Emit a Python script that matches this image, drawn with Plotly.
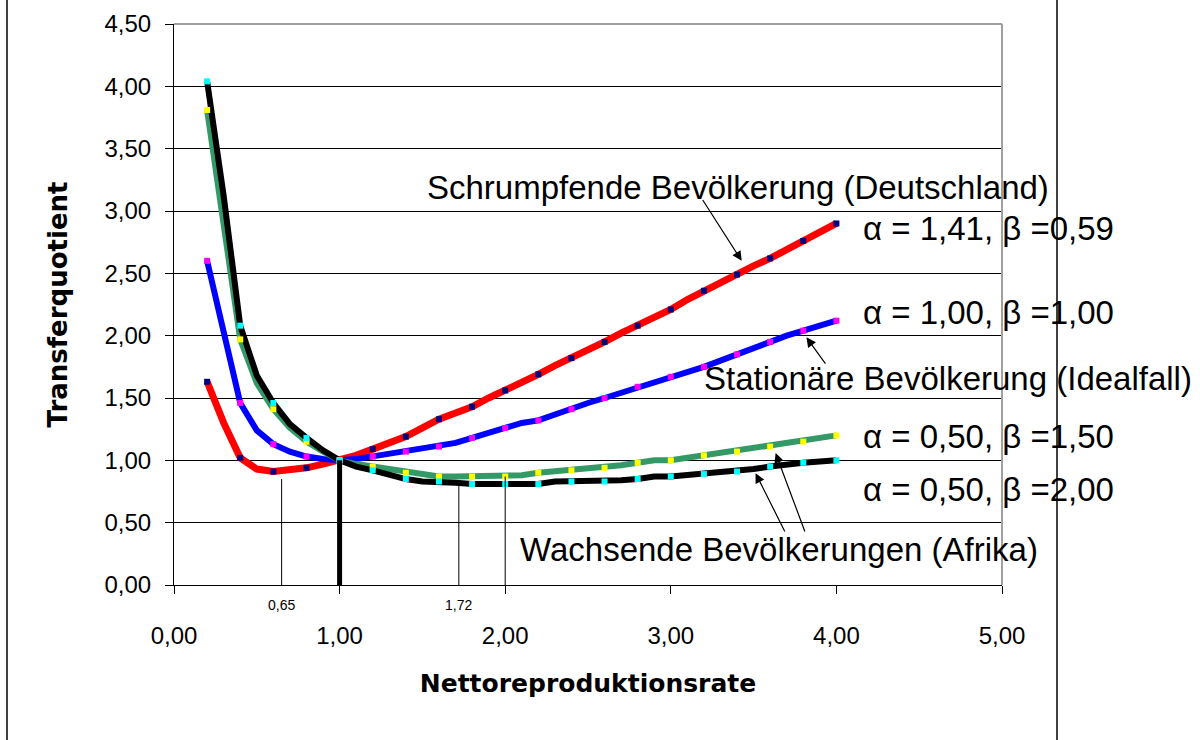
import plotly.graph_objects as go

# Nettoreproduktionsrate (0.2 .. 4.0 in steps of 0.1)
nrr = [round(0.2 + 0.1 * i, 1) for i in range(39)]

# Transferquotient for the four parameter sets
tq_a141_b059 = [1.63, 1.30, 1.02, 0.93, 0.91, 0.92, 0.94, 0.97, 1.00, 1.04,
                1.09, 1.14, 1.19, 1.26, 1.33, 1.38, 1.43, 1.50, 1.56, 1.63,
                1.69, 1.76, 1.82, 1.89, 1.95, 2.02, 2.08, 2.15, 2.21, 2.29,
                2.36, 2.42, 2.49, 2.56, 2.62, 2.69, 2.76, 2.83, 2.90]
tq_a100_b100 = [2.60, 2.02, 1.46, 1.24, 1.13, 1.07, 1.03, 1.01, 1.00, 1.01,
                1.03, 1.05, 1.07, 1.09, 1.11, 1.14, 1.18, 1.22, 1.26, 1.30,
                1.32, 1.37, 1.41, 1.46, 1.50, 1.54, 1.59, 1.63, 1.67, 1.71,
                1.75, 1.80, 1.85, 1.91, 1.95, 2.00, 2.04, 2.08, 2.12]
tq_a050_b150 = [3.81, 2.85, 1.97, 1.62, 1.41, 1.26, 1.15, 1.07, 1.00, 0.97,
                0.95, 0.92, 0.90, 0.88, 0.87, 0.87, 0.87, 0.87, 0.87, 0.88,
                0.90, 0.91, 0.92, 0.93, 0.94, 0.96, 0.98, 1.00, 1.00, 1.02,
                1.04, 1.05, 1.07, 1.09, 1.11, 1.13, 1.15, 1.17, 1.20]
tq_a050_b200 = [4.04, 3.12, 2.08, 1.68, 1.46, 1.29, 1.18, 1.08, 1.00, 0.95,
                0.92, 0.88, 0.85, 0.83, 0.83, 0.82, 0.81, 0.81, 0.81, 0.81,
                0.81, 0.83, 0.83, 0.83, 0.83, 0.84, 0.85, 0.87, 0.87, 0.88,
                0.89, 0.90, 0.91, 0.93, 0.95, 0.97, 0.98, 0.99, 1.00]

series_names = ["α = 1,41, β =0,59", "α = 1,00, β =1,00",
                "α = 0,50, β =1,50", "α = 0,50, β =2,00"]

# reference positions marked below the curves (NRR, height of the drop line)
minima_x = [0.65, 1.72, 2.00]
minima_top = [0.85, 0.80, 0.87]
minima_labels = ["0,65", "1,72", ""]
stationary_x = 1.00
stationary_y = 1.00

x_ticks = [0, 1, 2, 3, 4, 5]
y_ticks = [0, 0.5, 1.0, 1.5, 2.0, 2.5, 3.0, 3.5, 4.0, 4.5]

ARIAL = "Liberation Sans, Arial, sans-serif"
BOLD = "DejaVu Sans, sans-serif"

fig = go.Figure()

styles = [
    dict(data=tq_a141_b059, color="#FF0000", width=7, marker="#000080"),
    dict(data=tq_a100_b100, color="#0000FF", width=6, marker="#FF00FF"),
    dict(data=tq_a050_b150, color="#339966", width=6, marker="#FFFF00"),
    dict(data=tq_a050_b200, color="#000000", width=6, marker="#00FFFF"),
]

for name, st in zip(series_names, styles):
    fig.add_trace(go.Scatter(
        x=nrr, y=st["data"], mode="lines", name=name,
        line=dict(color=st["color"], width=st["width"]),
        showlegend=False, hoverinfo="skip"))

# square markers every 0.2
for name, st in zip(series_names, styles):
    fig.add_trace(go.Scatter(
        x=nrr[::2], y=st["data"][::2], mode="markers", name=name,
        marker=dict(symbol="square", size=6, color=st["marker"], line=dict(width=0)),
        showlegend=False))

# drop lines at the minima and at NRR = 1
for mx, mt in zip(minima_x, minima_top):
    fig.add_trace(go.Scatter(x=[mx, mx], y=[0, mt], mode="lines",
                             line=dict(color="black", width=1),
                             showlegend=False, hoverinfo="skip"))
fig.add_trace(go.Scatter(x=[stationary_x, stationary_x], y=[0, stationary_y],
                         mode="lines", line=dict(color="black", width=5),
                         showlegend=False, hoverinfo="skip"))

annotations = []
for mx, lab in zip(minima_x, minima_labels):
    if lab:
        annotations.append(dict(x=mx, y=0, xref="x", yref="y", text=lab,
                                showarrow=False, yshift=-20,
                                font=dict(family=ARIAL, size=14, color="black")))

# curve labels on the right
label_y = [228, 312, 436, 489]
for name, py in zip(series_names, label_y):
    annotations.append(dict(x=861, y=py, xref="paper", yref="paper", text=name,
                            showarrow=False, xanchor="left", yanchor="middle",
                            font=dict(family=ARIAL, size=33, color="black")))

# descriptive labels with arrows
text_labels = [
    ("Schrumpfende Bevölkerung (Deutschland)", 738, 187),
    ("Stationäre Bevölkerung (Idealfall)", 948, 378),
    ("Wachsende Bevölkerungen (Afrika)", 779, 549),
]
for txt, px, py in text_labels:
    annotations.append(dict(x=px, y=py, xref="paper", yref="paper", text=txt,
                            showarrow=False, xanchor="center", yanchor="middle",
                            font=dict(family=ARIAL, size=33, color="black")))

arrows = [
    ((3.187, 3.10), (3.428, 2.60)),
    ((3.940, 1.763), (3.819, 1.987)),
    ((3.693, 0.417), (3.512, 0.897)),
    ((3.813, 0.417), (3.633, 1.058)),
]
for (tx, ty), (hx, hy) in arrows:
    annotations.append(dict(x=hx, y=hy, ax=tx, ay=ty, xref="x", yref="y",
                            axref="x", ayref="y", text="", showarrow=True,
                            arrowhead=2, arrowsize=1.6, arrowwidth=1.2,
                            arrowcolor="black"))

# convert pixel-placed labels to paper coordinates
L, R, T, B = 174, 198, 24, 155
W, H = 1200, 740
pw, ph = W - L - R, H - T - B
for a in annotations:
    if a.get("xref") == "paper":
        a["x"] = (a["x"] - L) / pw
        a["y"] = (H - B - a["y"]) / ph

shapes = [
    # plot-area border (top and right)
    dict(type="line", xref="paper", yref="paper", x0=0, x1=1, y0=1, y1=1,
         line=dict(color="#A0A0A0", width=2)),
    dict(type="line", xref="paper", yref="paper", x0=1, x1=1, y0=0, y1=1,
         line=dict(color="#A0A0A0", width=2)),
    # chart frame
    dict(type="line", xref="paper", yref="paper",
         x0=(7 - L) / pw, x1=(7 - L) / pw, y0=-B / ph - 0.01, y1=(H - B) / ph + 0.01,
         line=dict(color="#404040", width=2)),
    dict(type="line", xref="paper", yref="paper",
         x0=(1057 - L) / pw, x1=(1057 - L) / pw, y0=-B / ph - 0.01, y1=(H - B) / ph + 0.01,
         line=dict(color="black", width=1.5)),
]

fig.update_layout(
    width=W, height=H,
    margin=dict(l=L, r=R, t=T, b=B, autoexpand=False),
    paper_bgcolor="white", plot_bgcolor="white",
    separators=",.",
    showlegend=False,
    annotations=annotations,
    shapes=shapes,
    xaxis=dict(range=[0, 5], tickvals=x_ticks, tickformat=".2f",
               showgrid=False, zeroline=False,
               showline=True, linecolor="black", linewidth=1,
               ticks="outside", ticklen=8, tickcolor="black",
               ticklabelstandoff=21,
               tickfont=dict(family=ARIAL, size=24, color="black"),
               title=dict(text="<b>Nettoreproduktionsrate</b>", standoff=26,
                          font=dict(family=BOLD, size=25, color="black"))),
    yaxis=dict(range=[0, 4.5], tickvals=y_ticks, tickformat=".2f",
               showgrid=True, gridcolor="black", gridwidth=1, zeroline=False,
               showline=True, linecolor="black", linewidth=1,
               ticks="outside", ticklen=8, tickcolor="black",
               ticklabelstandoff=9,
               tickfont=dict(family=ARIAL, size=24, color="black"),
               title=dict(text="<b>Transferquotient</b>", standoff=29,
                          font=dict(family=BOLD, size=26, color="black"))),
)

fig.write_html("out.html")
